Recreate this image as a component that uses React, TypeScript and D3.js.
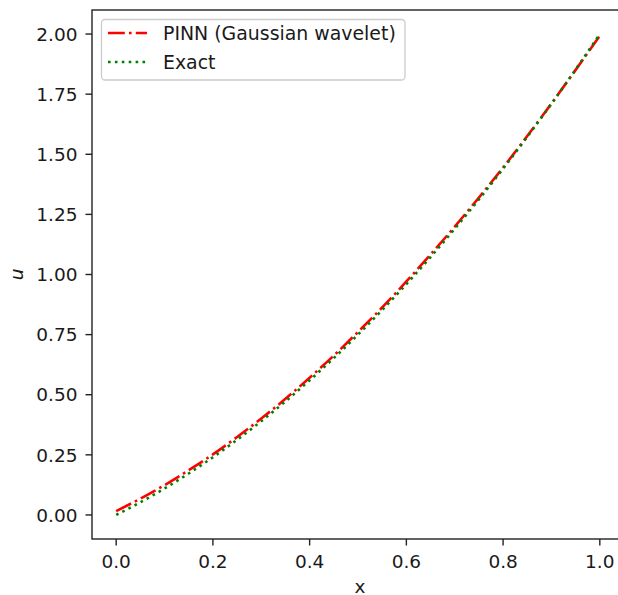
import React from "react";
import * as d3 from "d3";

const xValues = [0, 0.05, 0.1, 0.15, 0.2, 0.25, 0.3, 0.35, 0.4, 0.45, 0.5, 0.55, 0.6, 0.65, 0.7, 0.75, 0.8, 0.85, 0.9, 0.95, 1.0];
const exactValues = [0, 0.0525, 0.11, 0.1725, 0.24, 0.3125, 0.39, 0.4725, 0.56, 0.6525, 0.75, 0.8525, 0.96, 1.0725, 1.19, 1.3125, 1.44, 1.5725, 1.71, 1.8525, 2.0];
const pinnValues = [0.016, 0.068, 0.124, 0.186, 0.252, 0.324, 0.401, 0.483, 0.571, 0.663, 0.761, 0.863, 0.971, 1.083, 1.199, 1.32, 1.445, 1.576, 1.711, 1.851, 1.993];
const xTicks = [0, 0.2, 0.4, 0.6, 0.8, 1.0];
const yTicks = [0, 0.25, 0.5, 0.75, 1.0, 1.25, 1.5, 1.75, 2.0];
const seriesNames = ["PINN (Gaussian wavelet)", "Exact"];

const W = 618;
const H = 595;
const left = 92;
const right = 624;
const top = 10;
const bottom = 539;
const FONT = "'DejaVu Sans', sans-serif";
const FS = 18.5;
const TXT = "#1a1a1a";

export default function App() {
  const x = d3.scaleLinear().domain([-0.05, 1.05]).range([left, right]);
  const y = d3.scaleLinear().domain([-0.1, 2.1]).range([bottom, top]);
  const line = d3
    .line<number>()
    .x((_, i) => x(xValues[i]))
    .y((d) => y(d))
    .curve(d3.curveMonotoneX);

  const lw = 2.6;
  const dashDot = "16.8,4.2,2.6,4.2";
  const dotted = "2.6,4.3";

  return (
    <svg
      width={W}
      height={H}
      style={{ position: "absolute", left: 0, top: 0, background: "#fff" }}
      fontFamily={FONT}
    >
      <rect x={0} y={0} width={W} height={H} fill="#fff" />
      <defs>
        <clipPath id="plotclip">
          <rect x={left} y={top} width={right - left} height={bottom - top} />
        </clipPath>
      </defs>
      <g clipPath="url(#plotclip)">
        <path d={line(pinnValues) || ""} fill="none" stroke="#ff0000" strokeWidth={lw} strokeDasharray={dashDot} />
        <path d={line(exactValues) || ""} fill="none" stroke="#008000" strokeWidth={lw} strokeDasharray={dotted} />
      </g>
      <rect x={left} y={top} width={right - left} height={bottom - top} fill="none" stroke="#222" strokeWidth={1.4} />
      {xTicks.map((t) => (
        <g key={"x" + t}>
          <line x1={x(t)} x2={x(t)} y1={bottom} y2={bottom + 6.5} stroke="#222" strokeWidth={1.4} />
          <text x={x(t)} y={568} textAnchor="middle" fontSize={FS} fill={TXT}>
            {t.toFixed(1)}
          </text>
        </g>
      ))}
      {yTicks.map((t) => (
        <g key={"y" + t}>
          <line x1={left - 6.5} x2={left} y1={y(t)} y2={y(t)} stroke="#222" strokeWidth={1.4} />
          <text x={77.5} y={y(t)} dy="0.36em" textAnchor="end" fontSize={FS} fill={TXT}>
            {t.toFixed(2)}
          </text>
        </g>
      ))}
      <text x={360} y={592.5} textAnchor="middle" fontSize={FS} fill={TXT}>
        x
      </text>
      <text
        transform={`translate(23, ${(top + bottom) / 2}) rotate(-90)`}
        textAnchor="middle"
        fontSize={FS}
        fontStyle="italic"
        fill={TXT}
      >
        u
      </text>
      <rect x={101.5} y={19.5} width={303.5} height={60.5} rx={3.5} fill="#fff" fillOpacity={0.8} stroke="#cccccc" strokeWidth={1.3} />
      <line x1={108} x2={147} y1={33} y2={33} stroke="#ff0000" strokeWidth={lw} strokeDasharray={dashDot} />
      <line x1={108} x2={147} y1={62} y2={62} stroke="#008000" strokeWidth={lw} strokeDasharray={dotted} />
      <text x={163} y={33} dy="0.36em" fontSize={18.9} fill={TXT}>
        {seriesNames[0]}
      </text>
      <text x={163} y={62} dy="0.36em" fontSize={18.9} fill={TXT}>
        {seriesNames[1]}
      </text>
    </svg>
  );
}
